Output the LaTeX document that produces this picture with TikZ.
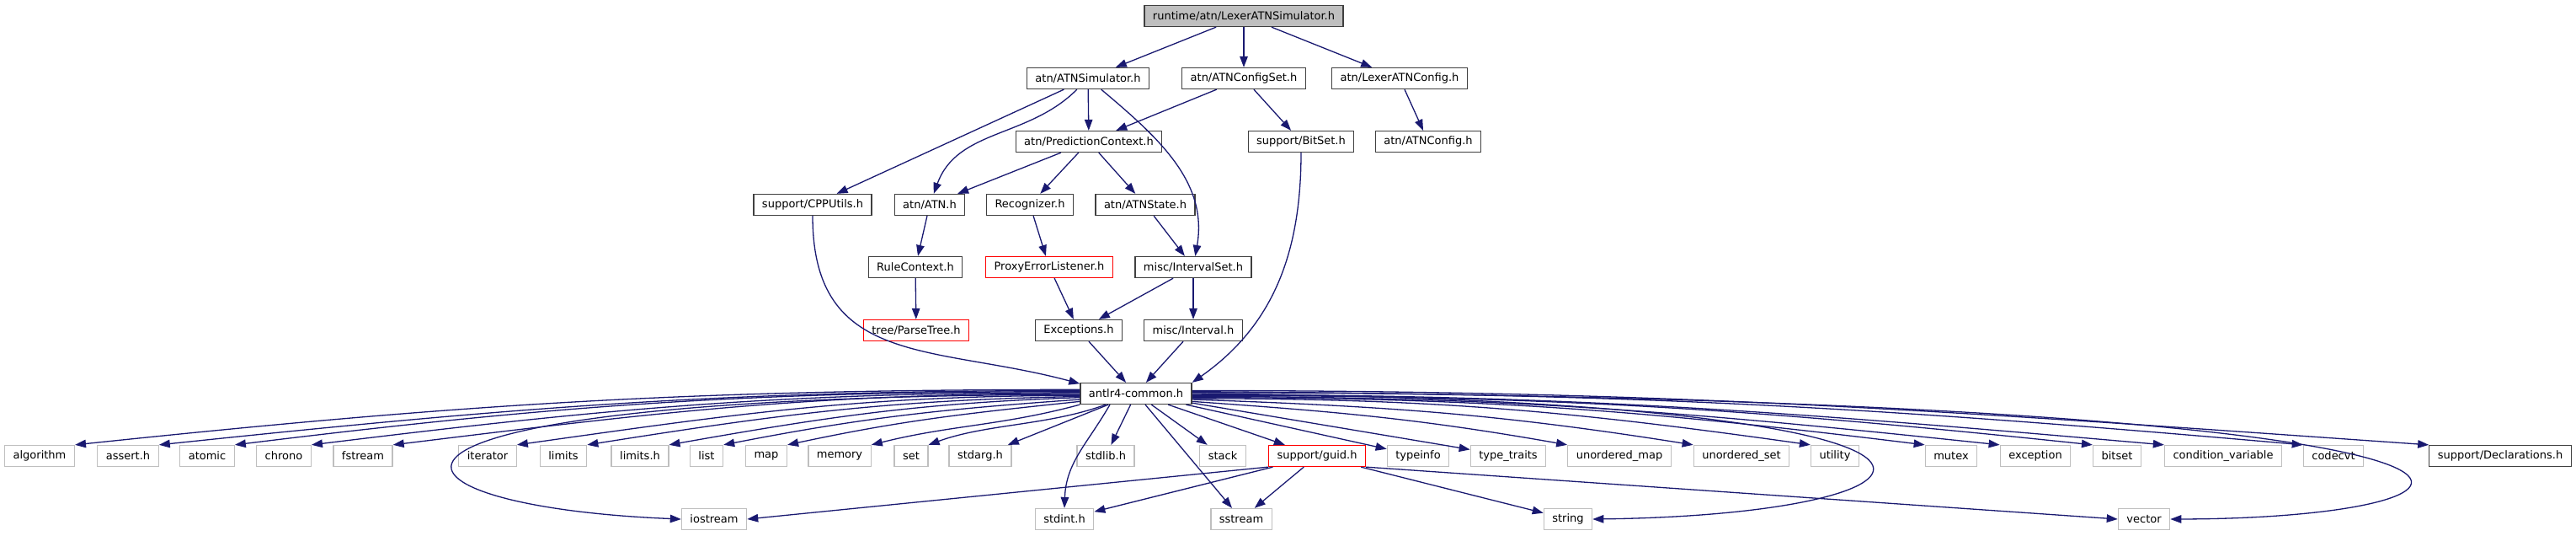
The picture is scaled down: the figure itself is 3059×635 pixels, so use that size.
\documentclass[tikz,border=0pt]{standalone}
\usepackage{fontspec}
\setmainfont{DejaVu Sans}
\usetikzlibrary{arrows.meta}
\definecolor{edgeblue}{RGB}{25,25,112}
\definecolor{grey25}{RGB}{64,64,64}
\definecolor{grey75}{RGB}{191,191,191}

\begin{document}
\begin{tikzpicture}[x=1pt, y=1pt,
  hbox/.style={rectangle, draw=grey25, fill=white, line width=1.3pt,
               minimum height=25pt, inner xsep=10pt, inner ysep=0pt,
               font=\fontsize{13}{15}\selectfont},
  sbox/.style={hbox, draw=grey75},
  rbox/.style={hbox, draw=red},
  darr/.style={-{Triangle[length=13pt, width=9.5pt]}, draw=edgeblue, line width=1.3pt}
]
\useasboundingbox (0,0) rectangle (3059,-635);

% Root file
\node[hbox, fill=grey75] (lxsim) at (1477,-19) {runtime/atn/LexerATNSimulator.h};

% Project headers
\node[hbox] (sim)     at (1292,-93)  {atn/ATNSimulator.h};
\node[hbox] (cfgset)  at (1477,-93)  {atn/ATNConfigSet.h};
\node[hbox] (lxcfg)   at (1662,-93)  {atn/LexerATNConfig.h};
\node[hbox] (pctx)    at (1293,-168) {atn/PredictionContext.h};
\node[hbox] (bits)    at (1545,-168) {support/BitSet.h};
\node[hbox] (atncfg)  at (1696,-168) {atn/ATNConfig.h};
\node[hbox] (cpputil) at (965,-243)  {support/CPPUtils.h};
\node[hbox] (atn)     at (1104,-243) {atn/ATN.h};
\node[hbox] (recog)   at (1223,-243) {Recognizer.h};
\node[hbox] (atnst)   at (1360,-243) {atn/ATNState.h};
\node[hbox] (rulectx) at (1087,-317) {RuleContext.h};
\node[rbox] (proxy)   at (1246,-317) {ProxyErrorListener.h};
\node[hbox] (iset)    at (1417,-317) {misc/IntervalSet.h};
\node[rbox] (ptree)   at (1088,-392) {tree/ParseTree.h};
\node[hbox] (excep)   at (1281,-392) {Exceptions.h};
\node[hbox] (ival)    at (1417,-392) {misc/Interval.h};
\node[hbox] (common)  at (1349,-467) {antlr4-common.h};

% Included headers, first row
\node[sbox] (algo)    at (47,-541)   {algorithm};
\node[sbox] (assert)  at (152,-541)  {assert.h};
\node[sbox] (atomic)  at (246,-541)  {atomic};
\node[sbox] (chrono)  at (337,-541)  {chrono};
\node[sbox] (fstream) at (431,-541)  {fstream};
\node[sbox] (iter)    at (579,-541)  {iterator};
\node[sbox] (limits)  at (669,-541)  {limits};
\node[sbox] (limitsh) at (760,-541)  {limits.h};
\node[sbox] (list)    at (839,-541)  {list};
\node[sbox] (map)     at (910,-541)  {map};
\node[sbox] (memory)  at (997,-541)  {memory};
\node[sbox] (set)     at (1082,-541) {set};
\node[sbox] (stdarg)  at (1164,-541) {stdarg.h};
\node[sbox] (stdlib)  at (1313,-541) {stdlib.h};
\node[sbox] (stack)   at (1452,-541) {stack};
\node[rbox] (guid)    at (1564,-541) {support/guid.h};
\node[sbox] (tinfo)   at (1684,-541) {typeinfo};
\node[sbox] (ttraits) at (1791,-541) {type\_traits};
\node[sbox] (umap)    at (1923,-541) {unordered\_map};
\node[sbox] (uset)    at (2068,-541) {unordered\_set};
\node[sbox] (utility) at (2179,-541) {utility};
\node[sbox] (mutex)   at (2317,-541) {mutex};
\node[sbox] (except)  at (2417,-541) {exception};
\node[sbox] (bitset)  at (2514,-541) {bitset};
\node[sbox] (condvar) at (2640,-541) {condition\_variable};
\node[sbox] (codecvt) at (2771,-541) {codecvt};
\node[hbox] (decl)    at (2969,-541) {support/Declarations.h};

% Included headers, second row
\node[sbox] (iostream) at (848,-616)  {iostream};
\node[sbox] (stdint)   at (1264,-616) {stdint.h};
\node[sbox] (sstream)  at (1474,-616) {sstream};
\node[sbox] (string)   at (1862,-616) {string};
\node[sbox] (vector)   at (2546,-616) {vector};

% Upper part
\draw[darr] (lxsim) -- (sim);
\draw[darr] (lxsim) -- (cfgset);
\draw[darr] (lxsim) -- (lxcfg);
\draw[darr] (sim) -- (pctx);
\draw[darr] (sim) -- (cpputil);
\draw[darr] (sim.-135) .. controls +(-135:82) and +(70:82) .. (atn.70);
\draw[darr] (sim.-40) .. controls +(-40:89) and +(80:89) .. (iset.80);
\draw[darr] (cfgset) -- (pctx);
\draw[darr] (cfgset) -- (bits);
\draw[darr] (lxcfg) -- (atncfg);
\draw[darr] (pctx) -- (atn);
\draw[darr] (pctx) -- (recog);
\draw[darr] (pctx) -- (atnst);
\draw[darr] (atn) -- (rulectx);
\draw[darr] (recog) -- (proxy);
\draw[darr] (atnst) -- (iset);
\draw[darr] (rulectx) -- (ptree);
\draw[darr] (proxy) -- (excep);
\draw[darr] (iset) -- (excep);
\draw[darr] (iset) -- (ival);

% Into antlr4-common.h
\draw[darr] (excep) -- (common);
\draw[darr] (ival) -- (common);
\draw[darr] (cpputil.south) .. controls +(-90:180) and +(165:180) .. (common.170);
\draw[darr] (bits.south) .. controls +(-90:118) and +(35:118) .. (common.north east);

% Out of antlr4-common.h, left
\draw[darr] (common.176) .. controls +(180:465) and +(6:465) .. (algo.north east);
\draw[darr] (common.177) .. controls +(180:427) and +(6:427) .. (assert.north east);
\draw[darr] (common.178) .. controls +(180:392) and +(7:392) .. (atomic.north east);
\draw[darr] (common.179) .. controls +(180:356) and +(7:356) .. (chrono.north east);
\draw[darr] (common.180) .. controls +(180:318) and +(7:318) .. (fstream.north east);
\draw[darr] (common.182) .. controls +(180:262) and +(8:262) .. (iter.north east);
\draw[darr] (common.183) .. controls +(181:229) and +(9:229) .. (limits.north east);
\draw[darr] (common.184) .. controls +(182:193) and +(10:193) .. (limitsh.north east);
\draw[darr] (common.186) .. controls +(184:168) and +(11:168) .. (list.north east);
\draw[darr] (common.188) .. controls +(186:140) and +(12:140) .. (map.north east);
\draw[darr] (common.south west) .. controls +(195:98) and +(14:98) .. (memory.north east);
\draw[darr] (common.-160) .. controls +(200:73) and +(20:73) .. (set.north east);
\draw[darr] (common) -- (stdarg);
\draw[darr] (common.181) .. controls (350,-470) and (420,-600) .. (iostream.west);

% Out of antlr4-common.h, below
\draw[darr] (common) -- (stdlib);
\draw[darr] (common.-157) .. controls +(-120:54) and +(88:54) .. (stdint.north);
\draw[darr] (common) -- (sstream);
\draw[darr] (common) -- (stack);
\draw[darr] (common) -- (guid);

% Out of antlr4-common.h, right
\draw[darr] (common) -- (tinfo);
\draw[darr] (common) -- (ttraits);
\draw[darr] (common.-8) .. controls +(-4:176) and +(170:176) .. (umap.north west);
\draw[darr] (common.-6) .. controls +(-2:234) and +(171:234) .. (uset.north west);
\draw[darr] (common.-5) .. controls +(0:288) and +(172:288) .. (utility.north west);
\draw[darr] (common.-4) .. controls +(0:341) and +(173:341) .. (mutex.north west);
\draw[darr] (common.-3) .. controls +(0:375) and +(174:375) .. (except.north west);
\draw[darr] (common.-2) .. controls +(0:419) and +(174:419) .. (bitset.north west);
\draw[darr] (common.-1) .. controls +(0:451) and +(175:451) .. (condvar.north west);
\draw[darr] (common.1) .. controls +(0:516) and +(175:516) .. (codecvt.north west);
\draw[darr] (common.3) .. controls +(0:574) and +(176:574) .. (decl.north west);
\draw[darr] (common.0) .. controls (2450,-475) and (2350,-610) .. (string.east);
\draw[darr] (common.2) .. controls (3145,-475) and (3020,-615) .. (vector.east);

% Out of support/guid.h
\draw[darr] (guid.south west) -- (iostream.east);
\draw[darr] (guid) -- (stdint);
\draw[darr] (guid) -- (sstream);
\draw[darr] (guid) -- (string);
\draw[darr] (guid.south east) -- (vector.west);
\end{tikzpicture}
\end{document}
